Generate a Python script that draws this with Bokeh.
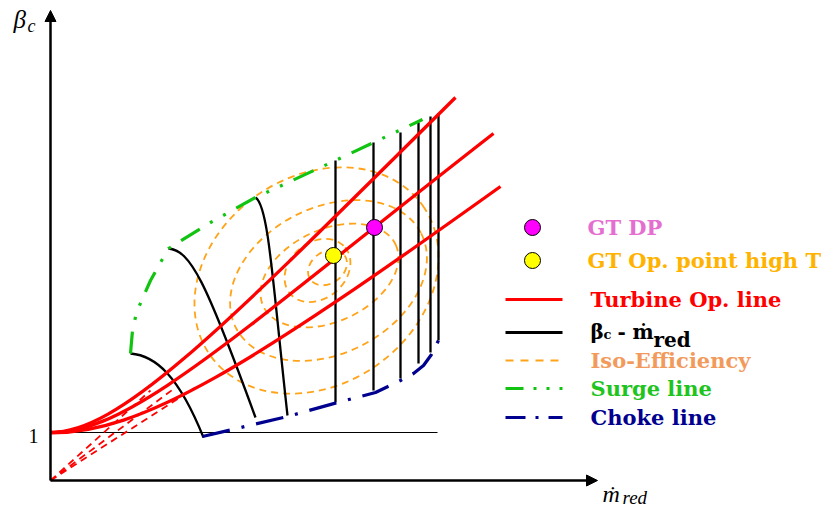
from bokeh.plotting import figure
from bokeh.models import Range1d, Arrow, NormalHead, ColumnDataSource
from bokeh.embed import file_html
from bokeh.resources import INLINE
from bokeh.core.properties import value
import math

# ---- schematic data (units: reduced mass flow / pressure ratio, arbitrary) ----
beta_one = 48            # level of beta_c = 1
beta_one_end = 387
x_axis_len = 547
y_axis_len = 470

# turbine operating lines (cubic Bezier: start, control 1, control 2, end)
turb_x0 = [0, 0, 0]
turb_y0 = [48, 48, 48]
turb_cx0 = [70, 80, 90]
turb_cy0 = [48, 46, 46]
turb_cx1 = [170, 190, 200]
turb_cy1 = [150, 150, 115]
turb_x1 = [405, 443, 450]
turb_y1 = [383, 347, 294]

# dashed extensions of the operating lines towards the origin
ext_x1 = [100, 125, 145]
ext_y1 = [90, 93, 93]

# curved speed lines (cubic Bezier)
spd_x0 = [80, 118, 205]
spd_y0 = [127, 232, 283]
spd_cx0 = [105, 140, 218]
spd_cy0 = [125, 230, 275]
spd_cx1 = [128, 155, 222]
spd_cy1 = [105, 200, 200]
spd_x1 = [153, 205, 237]
spd_y1 = [43, 63, 65]

# vertical speed lines
vspd_x = [285, 323, 350, 368, 380, 388]
vspd_top = [320, 338, 348, 358, 364, 367]
vspd_bot = [78, 90, 102, 117, 128, 140]

# surge line
surge_x = [80, 82, 86, 92, 100, 110, 118, 160, 205, 285, 323, 372]
surge_y = [127, 150, 168, 182, 200, 218, 232, 258, 283, 320, 338, 361]

# choke line
choke_x = [152, 237, 287, 325, 350, 363, 373, 381, 388]
choke_y = [44, 64, 78, 88, 100, 107, 115, 126, 140]

# iso-efficiency contours
iso_cx = [266, 278, 279, 267, 277]
iso_cy = [200, 200, 205, 210, 213]
iso_a = [130, 104, 73, 36, 21]
iso_b = [104, 73, 46, 28, 16]
iso_ang = [35, 27, 25, 40, 35]

# operating points
dp_x, dp_y = [324], [253]
hot_x, hot_y = [283], [225]

RED = "#ff0000"
ORANGE = "#ffa319"
GREEN = "#11c411"
NAVY = "#00008f"
MAGENTA = "#ff00ff"
YELLOW = "#ffff00"

p = figure(width=833, height=510, x_range=Range1d(-50, 783), y_range=Range1d(-30, 480),
           output_backend="svg", toolbar_location=None, min_border=0,
           x_axis_location=None, y_axis_location=None)
p.grid.visible = False
p.outline_line_color = None
p.background_fill_color = "white"

# axes with arrows
p.add_layout(Arrow(end=NormalHead(size=11, fill_color="black", line_color="black"),
                   x_start=0, y_start=0, x_end=0, y_end=y_axis_len, line_width=2.5))
p.add_layout(Arrow(end=NormalHead(size=11, fill_color="black", line_color="black"),
                   x_start=0, y_start=0, x_end=x_axis_len, y_end=0, line_width=2.5))

# beta = 1 line
p.segment(x0=[0], y0=[beta_one], x1=[beta_one_end], y1=[beta_one], line_color="black", line_width=1)

# iso efficiency
p.ellipse(x=iso_cx, y=iso_cy, width=[2 * a for a in iso_a], height=[2 * b for b in iso_b],
          angle=[math.radians(t) for t in iso_ang], fill_alpha=0, line_color=ORANGE,
          line_width=1.8, line_dash="7 5")

# speed lines
p.bezier(x0=spd_x0, y0=spd_y0, x1=spd_x1, y1=spd_y1, cx0=spd_cx0, cy0=spd_cy0,
         cx1=spd_cx1, cy1=spd_cy1, line_color="black", line_width=2.3)
p.segment(x0=vspd_x, y0=vspd_bot, x1=vspd_x, y1=vspd_top, line_color="black", line_width=2.3)

# surge / choke
p.line(surge_x, surge_y, line_color=GREEN, line_width=3.2, line_dash="22 12 3 12 3 12")
p.line(choke_x, choke_y, line_color=NAVY, line_width=3.2, line_dash="28 12 3 12")

# turbine lines
p.segment(x0=[0, 0, 0], y0=[0, 0, 0], x1=ext_x1, y1=ext_y1, line_color=RED, line_width=1.8,
          line_dash="7 5")
p.bezier(x0=turb_x0, y0=turb_y0, x1=turb_x1, y1=turb_y1, cx0=turb_cx0, cy0=turb_cy0,
         cx1=turb_cx1, cy1=turb_cy1, line_color=RED, line_width=3.3)

# operating points
p.scatter(dp_x, dp_y, size=16, fill_color=MAGENTA, line_color="black", line_width=1)
p.scatter(hot_x, hot_y, size=16, fill_color=YELLOW, line_color="black", line_width=1)

# axis labels
serif = value("Liberation Serif")
p.text(x=[-37], y=[461], text=["β"], text_font=serif, text_font_style="italic",
       text_font_size="25px", text_baseline="middle", text_color="black")
p.text(x=[-23], y=[455], text=["c"], text_font=serif, text_font_style="italic",
       text_font_size="18px", text_baseline="middle", text_color="black")
p.text(x=[552], y=[-13], text=["ṁ"], text_font=serif, text_font_style="italic",
       text_font_size="24px", text_baseline="middle", text_color="black")
p.text(x=[572], y=[-17], text=["red"], text_font=serif, text_font_style="italic",
       text_font_size="19px", text_baseline="middle", text_color="black")
p.text(x=[-17], y=[45], text=["1"], text_font=serif, text_font_size="20px",
       text_baseline="middle", text_align="center", text_color="black")

# ---- legend (drawn manually) ----
leg_font = value("DejaVu Serif")
p.scatter([482], [253], size=16, fill_color=MAGENTA, line_color="black", line_width=1)
p.scatter([482], [220], size=16, fill_color=YELLOW, line_color="black", line_width=1)
leg_src = ColumnDataSource(dict(
    x=[537, 537, 540, 540, 540, 540],
    y=[253, 220, 181, 120, 92, 63],
    t=["GT DP", "GT Op. point high T", "Turbine Op. line", "Iso-Efficiency", "Surge line", "Choke line"],
    c=["#e46fd0", "#ffb300", RED, "#f29a5c", "#1fc41f", NAVY],
))
p.text(x="x", y="y", text="t", text_color="c", source=leg_src, text_font=leg_font,
       text_font_style="bold", text_font_size="21px", text_baseline="middle")
p.segment(x0=[455], y0=[181], x1=[512], y1=[181], line_color=RED, line_width=3)
p.segment(x0=[455], y0=[148], x1=[512], y1=[148], line_color="black", line_width=3)
p.segment(x0=[455], y0=[120], x1=[512], y1=[120], line_color=ORANGE, line_width=2, line_dash="8 7")
p.segment(x0=[455], y0=[92], x1=[512], y1=[92], line_color=GREEN, line_width=3, line_dash="18 10 3 10 3 10")
p.segment(x0=[455], y0=[63], x1=[512], y1=[63], line_color=NAVY, line_width=3, line_dash="20 10 3 10")
p.text(x=[540], y=[149], text=["β"], text_font=leg_font, text_font_style="bold",
       text_font_size="20px", text_baseline="middle", text_color="black")
p.text(x=[553], y=[146], text=["c"], text_font=leg_font, text_font_style="bold",
       text_font_size="13px", text_baseline="middle", text_color="black")
p.text(x=[567], y=[149], text=["-"], text_font=leg_font, text_font_style="bold",
       text_font_size="20px", text_baseline="middle", text_color="black")
p.text(x=[582], y=[149], text=["ṁ"], text_font=leg_font, text_font_style="bold",
       text_font_size="20px", text_baseline="middle", text_color="black")
p.text(x=[603], y=[141], text=["red"], text_font=leg_font, text_font_style="bold",
       text_font_size="20px", text_baseline="middle", text_color="black")

open("out.html", "w").write(file_html(p, INLINE))
